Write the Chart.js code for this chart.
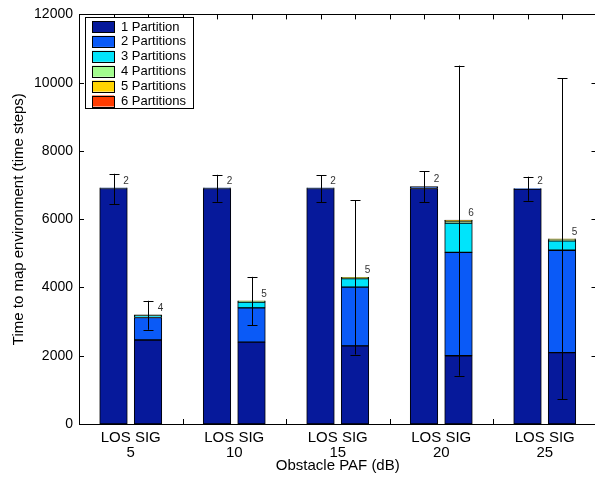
<!DOCTYPE html>
<html lang="en">
<head>
<meta charset="UTF-8">
<title>Time to map environment</title>
<style>
  html, body { margin: 0; padding: 0; background: #fff; overflow: hidden; }
  #wrap { width: 598px; height: 491px; }
</style>
</head>
<body>
<div id="wrap"><canvas id="chart" width="598" height="491"></canvas></div>
<script src="https://cdn.jsdelivr.net/npm/chart.js"></script>
<script>
// groups along the x axis (obstacle PAF in dB), two bars per group
const groups = ['5', '10', '15', '20', '25'];
const barTypes = ['LOS', 'SIG'];
const partitionLabels = ['1 Partition', '2 Partitions', '3 Partitions', '4 Partitions', '5 Partitions', '6 Partitions'];
const partitionColors = ['#06199b', '#0a5af7', '#00e4fb', '#a2fc8e', '#ffd400', '#ff3b00'];

// bar order: LOS5, SIG5, LOS10, SIG10, LOS15, SIG15, LOS20, SIG20, LOS25, SIG25
const part1 = [6900, 2460, 6900, 2400, 6900, 2290, 6900, 2000, 6880, 2090];
const part2 = [20, 660, 20, 1000, 20, 1720, 55, 3030, 20, 3000];
const part3 = [0, 55, 0, 170, 0, 250, 0, 855, 0, 275];
const part4 = [0, 20, 0, 25, 0, 30, 0, 60, 0, 40];
const part5 = [0, 0, 0, 10, 0, 10, 0, 20, 0, 20];
const part6 = [0, 0, 0, 0, 0, 0, 0, 10, 0, 0];
const errHigh = [7330, 3610, 7300, 4310, 7290, 6550, 7400, 10500, 7245, 10130];
const errLow = [6440, 2760, 6510, 2890, 6500, 2035, 6490, 1415, 6540, 720];
const maxPartitions = [2, 4, 2, 5, 2, 5, 2, 6, 2, 5];

const yTicks = [0, 2000, 4000, 6000, 8000, 10000, 12000];

const FONT = '"Liberation Sans", Arial, Helvetica, sans-serif';

// slot on the x axis for each bar: 3 slots per group (LOS, SIG, gap)
const slots = [];
groups.forEach((g, gi) => barTypes.forEach((t, ti) => slots.push(gi * 3 + 1 + ti)));
const groupCenters = groups.map((g, gi) => gi * 3 + 1.5);

const parts = [part1, part2, part3, part4, part5, part6];
const datasets = parts.map((vals, i) => ({
  label: partitionLabels[i],
  data: vals.map((v, k) => ({ x: slots[k], y: v })),
  backgroundColor: partitionColors[i],
  borderColor: '#000',
  borderWidth: 1,
  borderSkipped: false,
  barThickness: 27.6
}));

function totals() {
  return slots.map((s, k) => parts.reduce((acc, p) => acc + p[k], 0));
}

const decorations = {
  id: 'decorations',
  beforeDatasetsDraw(chart) {
    const { ctx, chartArea: a, scales: { x, y } } = chart;
    ctx.save();
    ctx.strokeStyle = '#000';
    ctx.lineWidth = 1;
    ctx.beginPath();
    // inside ticks along the bottom, one per slot
    for (let s = 1; s < 15; s++) {
      const px = Math.round(x.getPixelForValue(s)) + 0.5;
      ctx.moveTo(px, a.bottom);
      ctx.lineTo(px, a.bottom - 5);
    }
    ctx.stroke();
    ctx.restore();
  },
  afterDatasetsDraw(chart) {
    const { ctx, chartArea: a, scales: { x, y } } = chart;
    ctx.save();
    ctx.strokeStyle = '#000';
    ctx.lineWidth = 1;

    // error bars
    slots.forEach((s, k) => {
      const px = Math.round(x.getPixelForValue(s)) + 0.5;
      const hi = y.getPixelForValue(errHigh[k]);
      const lo = y.getPixelForValue(errLow[k]);
      ctx.beginPath();
      ctx.moveTo(px, hi); ctx.lineTo(px, lo);
      ctx.moveTo(px - 5, Math.round(hi) + 0.5); ctx.lineTo(px + 5, Math.round(hi) + 0.5);
      ctx.moveTo(px - 5, Math.round(lo) + 0.5); ctx.lineTo(px + 5, Math.round(lo) + 0.5);
      ctx.stroke();
    });

    // max partition labels
    const tot = totals();
    ctx.fillStyle = '#333';
    ctx.font = '10px ' + FONT;
    ctx.textAlign = 'center';
    ctx.textBaseline = 'middle';
    slots.forEach((s, k) => {
      ctx.fillText(String(maxPartitions[k]), x.getPixelForValue(s) + 12.5, y.getPixelForValue(tot[k]) - 7);
    });

    // axes box
    ctx.strokeRect(Math.round(a.left) + 0.5, Math.round(a.top) + 0.5, Math.round(a.right - a.left), Math.round(a.bottom - a.top));

    // inside ticks: top (per slot), left and right (per y tick)
    ctx.beginPath();
    for (let s = 1; s < 15; s++) {
      const px = Math.round(x.getPixelForValue(s)) + 0.5;
      ctx.moveTo(px, a.top);
      ctx.lineTo(px, a.top + 5);
    }
    yTicks.forEach(v => {
      const py = Math.round(y.getPixelForValue(v)) + 0.5;
      ctx.moveTo(a.left, py); ctx.lineTo(a.left + 5, py);
      ctx.moveTo(a.right, py); ctx.lineTo(a.right - 5, py);
    });
    ctx.stroke();

    // legend inside the axes
    const lx = 85, ly = 17, lw = 108, lh = 91;
    ctx.fillStyle = '#fff';
    ctx.fillRect(lx, ly, lw, lh);
    ctx.strokeRect(lx + 0.5, ly + 0.5, lw, lh);
    ctx.font = '13px ' + FONT;
    ctx.textAlign = 'left';
    ctx.textBaseline = 'middle';
    chart.data.datasets.forEach((ds, i) => {
      const rowY = ly + 9.5 + i * 14.9;
      ctx.fillStyle = ds.backgroundColor;
      ctx.fillRect(92, rowY - 5.5, 22, 11);
      ctx.strokeRect(92.5, Math.round(rowY - 5.5) + 0.5, 22, 11);
      ctx.fillStyle = '#000';
      ctx.fillText(ds.label, 121, rowY + 0.5);
    });
    ctx.restore();
  }
};

new Chart(document.getElementById('chart'), {
  type: 'bar',
  data: { datasets: datasets },
  options: {
    responsive: false,
    animation: false,
    layout: { padding: { left: 0, top: 11, right: 1.5, bottom: 0 } },
    plugins: {
      legend: { display: false },
      tooltip: { enabled: false }
    },
    scales: {
      x: {
        type: 'linear',
        min: 0,
        max: 15,
        offset: false,
        stacked: true,
        grid: { display: false, drawTicks: false, offset: false },
        border: { display: false },
        afterBuildTicks(scale) {
          scale.ticks = groupCenters.map(v => ({ value: v }));
        },
        afterFit(scale) { scale.height = 67; },
        ticks: {
          autoSkip: false,
          maxRotation: 0,
          padding: 6,
          color: '#000',
          font: { family: FONT, size: 15, lineHeight: 1.0 },
          callback: (v, i) => [barTypes.join(' '), groups[i]]
        },
        title: {
          display: true,
          text: 'Obstacle PAF (dB)',
          color: '#000',
          font: { family: FONT, size: 15 },
          padding: { top: 0, bottom: 16 }
        }
      },
      y: {
        min: 0,
        max: 12000,
        stacked: true,
        grid: { display: false, drawTicks: false },
        border: { display: false },
        afterBuildTicks(scale) {
          scale.ticks = yTicks.map(v => ({ value: v }));
        },
        afterFit(scale) { scale.width = 79; },
        ticks: {
          padding: 6,
          color: '#000',
          font: { family: FONT, size: 14 },
          callback: v => String(v)
        },
        title: {
          display: true,
          text: 'Time to map environment (time steps)',
          color: '#000',
          font: { family: FONT, size: 15 },
          padding: { top: 10, bottom: 0 }
        }
      }
    }
  },
  plugins: [decorations]
});
</script>
</body>
</html>
